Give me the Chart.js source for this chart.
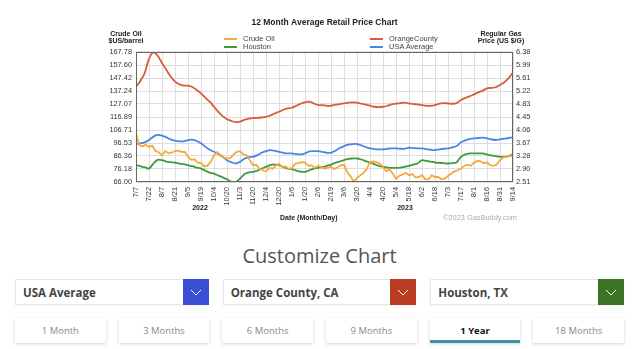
<!DOCTYPE html>
<html lang="en">
<head>
    <meta charset="UTF-8">
    <meta name="viewport" content="width=device-width, initial-scale=1.0">
    <title>12 Month Average Retail Price Chart</title>
    <script src="https://cdn.jsdelivr.net/npm/chart.js"></script>
    <style>
        body {
            margin: 0;
            width: 640px;
            height: 349px;
            overflow: hidden;
            position: relative;
            background: #fff;
            font-family: Arial, "Liberation Sans", sans-serif;
        }

        #chartBox {
            position: absolute;
            left: 0;
            top: 0;
            width: 640px;
            height: 230px;
        }

        .axis-title {
            position: absolute;
            top: 29.6px;
            transform: translateX(-50%);
            text-align: center;
            font-size: 7px;
            font-weight: bold;
            line-height: 7.7px;
            color: #222;
            white-space: nowrap;
        }

        .leg {
            position: absolute;
            font-size: 7.5px;
            line-height: 8px;
            color: #444;
            white-space: nowrap;
        }

        .leg i {
            position: absolute;
            left: -19px;
            top: 3px;
            width: 13px;
            height: 2px;
        }

        .year {
            position: absolute;
            top: 204px;
            transform: translateX(-50%);
            font-size: 7px;
            font-weight: bold;
            line-height: 8px;
            color: #222;
        }

        .foot {
            position: absolute;
            top: 214px;
            font-size: 7px;
            line-height: 8px;
            white-space: nowrap;
        }

        .customize {
            position: absolute;
            left: 15px;
            top: 243px;
            width: 609px;
            margin: 0;
            text-align: center;
            font-family: "Open Sans", sans-serif;
            font-size: 20px;
            font-weight: 400;
            line-height: 26px;
            color: #555;
        }

        .selects, .ranges {
            position: absolute;
            left: 15px;
            width: 609px;
            display: flex;
            font-family: "Open Sans", sans-serif;
        }

        .selects {
            top: 279px;
            gap: 14px;
        }

        .select {
            flex: 1;
            height: 26px;
            box-sizing: border-box;
            border: 1px solid #e6e6e6;
            box-shadow: 0 1px 2px rgba(0, 0, 0, 0.05);
            display: flex;
            align-items: center;
            justify-content: space-between;
            background: #fff;
        }

        .select span {
            padding-left: 7px;
            font-size: 11.5px;
            font-weight: 700;
            color: #444;
        }

        .select b {
            width: 26px;
            height: 26px;
            margin: -1px -1px -1px 0;
            display: flex;
            align-items: center;
            justify-content: center;
        }

        .ranges {
            top: 318px;
            gap: 13px;
        }

        .ranges div {
            flex: 1;
            height: 25px;
            position: relative;
            background: #fff;
            box-shadow: 0 1px 3px rgba(0, 0, 0, 0.18);
            text-align: center;
            line-height: 25px;
            font-size: 9.5px;
            color: #888;
        }

        .ranges div.active {
            color: #111;
            font-weight: 700;
        }

        .ranges div.active::after {
            content: "";
            position: absolute;
            left: 0;
            right: 0;
            bottom: 0;
            height: 3px;
            background: #3b93a6;
        }
    </style>
</head>
<body>

    <div id="chartBox"><canvas id="priceChart" width="640" height="230"></canvas></div>

    <div class="axis-title" style="left:126px">Crude Oil<br>$US/barrel</div>
    <div class="axis-title" style="left:501px">Regular Gas<br>Price (US $/G)</div>

    <div class="leg" style="left:243px; top:35px"><i style="background:#f7a93b"></i>Crude Oil</div>
    <div class="leg" style="left:243px; top:42.5px"><i style="background:#3f9a3f"></i>Houston</div>
    <div class="leg" style="left:389px; top:35px"><i style="background:#da5b3d"></i>OrangeCounty</div>
    <div class="leg" style="left:389px; top:42.5px"><i style="background:#4a85e6"></i>USA Average</div>

    <div class="year" style="left:200px">2022</div>
    <div class="year" style="left:405px">2023</div>
    <div class="foot" style="left:280px; font-weight:bold; color:#222">Date (Month/Day)</div>
    <div class="foot" style="left:443px; font-size:7.4px; color:#aaa">&copy;2023 GasBuddy.com</div>

    <h2 class="customize">Customize Chart</h2>

    <div class="selects">
        <div class="select"><span>USA Average</span><b style="background:#3b4fd6"><svg width="12" height="7"><polyline points="1,1 6,6 11,1" fill="none" stroke="#fff" stroke-width="1"/></svg></b></div>
        <div class="select"><span>Orange County, CA</span><b style="background:#b93c23"><svg width="12" height="7"><polyline points="1,1 6,6 11,1" fill="none" stroke="#fff" stroke-width="1"/></svg></b></div>
        <div class="select"><span>Houston, TX</span><b style="background:#3b7424"><svg width="12" height="7"><polyline points="1,1 6,6 11,1" fill="none" stroke="#fff" stroke-width="1"/></svg></b></div>
    </div>

    <div class="ranges">
        <div>1 Month</div>
        <div>3 Months</div>
        <div>6 Months</div>
        <div>9 Months</div>
        <div class="active">1 Year</div>
        <div>18 Months</div>
    </div>

    <script>
        // Date labels on the x axis (one gridline each)
        const dateLabels = ['7/7', '7/22', '8/7', '8/21', '9/5', '9/19', '10/4', '10/20', '11/3', '11/20',
            '12/4', '12/20', '1/6', '1/20', '2/6', '2/19', '3/6', '3/20', '4/4', '4/20',
            '5/4', '5/18', '6/2', '6/18', '7/3', '7/17', '8/1', '8/16', '8/31', '9/14'];

        // Tick labels of the two value axes
        const crudeTicks = [66.00, 76.18, 86.36, 96.53, 106.71, 116.89, 127.07, 137.24, 147.42, 157.60, 167.78];
        const gasTicks = [2.51, 2.90, 3.28, 3.67, 4.06, 4.45, 4.83, 5.22, 5.61, 5.99, 6.38];

        // Crude oil $/barrel, 4 readings per date label
        const crudeOil = [
            104.0, 95.0, 93.8, 95.2, 93.5, 94.5, 90.3, 89.2, 87.0, 90.2, 88.5, 89.1, 90.1, 90.5, 89.6, 89.5,
            85.7, 83.4, 83.8, 81.0, 81.2, 78.2, 78.8, 81.8, 87.0, 89.5, 86.5, 85.0, 84.4,
            84.6, 87.5, 89.6, 90.1, 87.6, 87.0, 83.3, 79.1, 79.5, 76.3, 75.2, 74.4, 77.0, 76.4,
            78.6, 80.4, 77.5, 78.2, 76.2, 77.0, 80.4, 80.8, 81.6, 81.2, 78.8, 79.0, 77.2, 78.6,
            77.9, 76.3, 77.2, 77.8, 76.1, 77.6, 79.1, 79.6, 73.6, 70.5, 66.2, 69.2, 71.2, 73.1, 76.1, 81.7,
            82.2, 81.5, 80.3, 77.8, 74.4, 75.8, 72.6, 68.6, 70.9, 71.7, 73.2, 71.3, 72.2, 69.6, 69.9,
            71.3, 68.2, 68.1, 71.3, 69.9, 69.9, 68.2, 68.7, 70.7, 72.7, 74.4, 75.2, 76.5, 78.6, 79.6,
            78.7, 81.2, 82.5, 82.3, 80.7, 81.2, 79.1, 78.6, 79.6, 83.1, 85.2, 85.7, 86.9, 88.3
        ];

        // Regular gas $/gallon, 3 readings per date label
        const orangeCounty = [
            5.35, 5.52, 5.75, 6.18, 6.37, 6.27, 6.05, 5.85, 5.65, 5.50, 5.42, 5.38, 5.38, 5.34, 5.25,
            5.15, 5.02, 4.90, 4.75, 4.60, 4.47, 4.38,
            4.33, 4.29, 4.31, 4.36, 4.40, 4.41, 4.42, 4.43, 4.45, 4.49, 4.55, 4.60, 4.66, 4.70, 4.72,
            4.78, 4.84, 4.88, 4.90, 4.85, 4.80,
            4.80, 4.78, 4.78, 4.81, 4.83, 4.85, 4.87, 4.88, 4.87, 4.84, 4.81, 4.78, 4.75, 4.74, 4.75,
            4.78, 4.82, 4.84, 4.86, 4.87, 4.85, 4.83, 4.82,
            4.80, 4.78, 4.78, 4.80, 4.84, 4.86, 4.85, 4.84, 4.86, 4.95, 5.01, 5.06, 5.12, 5.18, 5.23,
            5.30, 5.31, 5.33, 5.40, 5.48, 5.60, 5.77
        ];

        const usaAverage = [
            3.64, 3.66, 3.69, 3.76, 3.86, 3.91, 3.89, 3.84, 3.78, 3.74, 3.72, 3.72, 3.76, 3.77, 3.73,
            3.66, 3.56, 3.47, 3.41, 3.34, 3.26, 3.16,
            3.10, 3.06, 3.11, 3.20, 3.25, 3.26, 3.31, 3.38, 3.43, 3.46, 3.44, 3.41, 3.38, 3.36, 3.36,
            3.34, 3.33, 3.36, 3.42, 3.43, 3.43,
            3.41, 3.38, 3.38, 3.44, 3.52, 3.58, 3.62, 3.64, 3.64, 3.60, 3.55, 3.51, 3.49, 3.48, 3.48,
            3.50, 3.51, 3.51, 3.50, 3.50, 3.53, 3.52, 3.51,
            3.51, 3.49, 3.47, 3.46, 3.48, 3.50, 3.51, 3.54, 3.58, 3.69, 3.75, 3.79, 3.81, 3.82, 3.83,
            3.81, 3.78, 3.76, 3.78, 3.80, 3.82, 3.84
        ];

        const houston = [
            3.01, 2.98, 2.95, 2.91, 3.06, 3.17, 3.16, 3.12, 3.10, 3.09, 3.06, 3.04, 3.01, 2.98, 2.94,
            2.91, 2.85, 2.79, 2.76, 2.70, 2.65, 2.59,
            2.52, 2.51, 2.61, 2.74, 2.80, 2.81, 2.85, 2.91, 2.96, 3.02, 3.03, 3.01, 2.95, 2.91, 2.89,
            2.85, 2.82, 2.81, 2.86, 2.91, 2.93,
            2.95, 2.99, 3.03, 3.08, 3.12, 3.16, 3.20, 3.21, 3.21, 3.18, 3.13, 3.09, 3.04, 2.99, 2.96,
            2.94, 2.93, 2.93, 2.94, 2.96, 2.99, 3.03, 3.06,
            3.16, 3.14, 3.12, 3.09, 3.08, 3.07, 3.06, 3.07, 3.10, 3.26, 3.33, 3.36, 3.36, 3.36, 3.36,
            3.33, 3.30, 3.28, 3.26, 3.26, 3.28, 3.31
        ];

        const CRUDE_PER_LABEL = 4;
        const GAS_PER_LABEL = 3;

        // readings sit between the date labels, so x is measured in label steps
        function toPoints(values, perLabel) {
            return values.map((v, i) => ({ x: i / perLabel, y: v }));
        }

        // dark frame round the plot area
        const plotBorder = {
            id: 'plotBorder',
            afterDatasetsDraw(chart) {
                const { ctx, chartArea: a } = chart;
                ctx.save();
                ctx.strokeStyle = '#666';
                ctx.lineWidth = 1;
                ctx.strokeRect(Math.round(a.left) + 0.5, Math.round(a.top) + 0.5,
                    Math.round(a.width) - 1, Math.round(a.height) - 1);
                ctx.restore();
            }
        };

        Chart.defaults.font.family = 'Arial, "Liberation Sans", sans-serif';

        const tickFont = { size: 7.4 };
        const gridColor = '#dedede';

        new Chart(document.getElementById('priceChart'), {
            type: 'line',
            data: {
                datasets: [
                    {
                        label: 'Crude Oil',
                        data: toPoints(crudeOil, CRUDE_PER_LABEL),
                        yAxisID: 'y',
                        borderColor: '#f7a93b',
                        borderWidth: 1.8,
                        pointRadius: 0,
                        tension: 0
                    },
                    {
                        label: 'OrangeCounty',
                        data: toPoints(orangeCounty, GAS_PER_LABEL),
                        yAxisID: 'y2',
                        borderColor: '#da5b3d',
                        borderWidth: 1.8,
                        pointRadius: 0,
                        tension: 0.3
                    },
                    {
                        label: 'Houston',
                        data: toPoints(houston, GAS_PER_LABEL),
                        yAxisID: 'y2',
                        borderColor: '#3f9a3f',
                        borderWidth: 1.8,
                        pointRadius: 0,
                        tension: 0.3
                    },
                    {
                        label: 'USA Average',
                        data: toPoints(usaAverage, GAS_PER_LABEL),
                        yAxisID: 'y2',
                        borderColor: '#4a85e6',
                        borderWidth: 1.8,
                        pointRadius: 0,
                        tension: 0.3
                    }
                ]
            },
            options: {
                responsive: false,
                animation: false,
                layout: {
                    padding: { left: 96, right: 87, top: 17.9, bottom: 18 }
                },
                plugins: {
                    legend: { display: false },
                    tooltip: { enabled: false },
                    title: {
                        display: true,
                        text: '12 Month Average Retail Price Chart',
                        color: '#222',
                        font: { size: 8.5, weight: 'bold' },
                        padding: { top: 0, bottom: 23.9 }
                    }
                },
                scales: {
                    x: {
                        type: 'linear',
                        min: 0,
                        max: dateLabels.length - 1,
                        afterBuildTicks: s => { s.ticks = dateLabels.map((_, i) => ({ value: i })); },
                        afterFit: s => { s.height = 30; },
                        ticks: {
                            autoSkip: false,
                            minRotation: 90,
                            maxRotation: 90,
                            padding: 5,
                            color: '#333',
                            font: tickFont,
                            callback: v => dateLabels[v]
                        },
                        grid: { color: gridColor, drawTicks: false },
                        border: { display: false }
                    },
                    y: {
                        position: 'left',
                        min: crudeTicks[0],
                        max: crudeTicks[crudeTicks.length - 1],
                        afterBuildTicks: s => { s.ticks = crudeTicks.map(v => ({ value: v })); },
                        afterFit: s => { s.width = 40; },
                        ticks: {
                            padding: 4,
                            color: '#333',
                            font: tickFont,
                            callback: v => v.toFixed(2)
                        },
                        grid: { color: gridColor, drawTicks: false },
                        border: { display: false }
                    },
                    y2: {
                        position: 'right',
                        min: gasTicks[0],
                        max: gasTicks[gasTicks.length - 1],
                        afterBuildTicks: s => { s.ticks = gasTicks.map(v => ({ value: v })); },
                        afterFit: s => { s.width = 40; },
                        ticks: {
                            padding: 3,
                            color: '#333',
                            font: tickFont,
                            callback: v => v.toFixed(2)
                        },
                        grid: { display: false, drawTicks: false },
                        border: { display: false }
                    }
                }
            },
            plugins: [plotBorder]
        });
    </script>

</body>
</html>
